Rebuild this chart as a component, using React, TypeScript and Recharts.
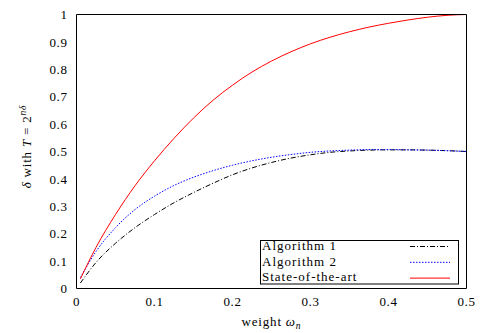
import React from 'react';
import { LineChart, Line, XAxis, YAxis, Legend } from 'recharts';

const weights = [0.005, 0.025, 0.05, 0.075, 0.1, 0.125, 0.15, 0.175, 0.2, 0.225, 0.25, 0.275, 0.3, 0.325, 0.35, 0.375, 0.4, 0.425, 0.45, 0.475, 0.5];
const algorithm1 = [0.02, 0.095, 0.165, 0.222, 0.27, 0.313, 0.35, 0.384, 0.415, 0.44, 0.46, 0.476, 0.488, 0.497, 0.502, 0.505, 0.506, 0.506, 0.505, 0.503, 0.5];
const algorithm2 = [0.04, 0.135, 0.222, 0.288, 0.337, 0.376, 0.406, 0.43, 0.45, 0.466, 0.479, 0.489, 0.497, 0.502, 0.505, 0.507, 0.507, 0.506, 0.505, 0.503, 0.5];
const stateOfTheArt = [0.035, 0.15, 0.27, 0.375, 0.466, 0.548, 0.622, 0.687, 0.742, 0.79, 0.83, 0.864, 0.893, 0.917, 0.937, 0.954, 0.968, 0.98, 0.99, 0.997, 1.0];

const xTicks = [0, 0.1, 0.2, 0.3, 0.4, 0.5];
const yTicks = [0, 0.1, 0.2, 0.3, 0.4, 0.5, 0.6, 0.7, 0.8, 0.9, 1];

const seriesNames = ['Algorithm 1', 'Algorithm 2', 'State-of-the-art'];
const seriesColors = ['#000000', '#0000ff', '#ff0000'];
const seriesDash = ['5 2 1 2', '1.5 1.5', undefined];
const seriesKeys = ['a1', 'a2', 'sota'];

const data = weights.map((w, i) => ({
  w,
  a1: algorithm1[i],
  a2: algorithm2[i],
  sota: stateOfTheArt[i],
}));

const FONT = '"Liberation Serif", "Times New Roman", serif';
const FS = 13;

const fmt = (v: number) => (v === 0 ? '0' : v === 1 ? '1' : String(v));

const LegendBox = () => (
  <svg width={204} height={52} style={{ display: 'block', overflow: 'visible' }}>
    <rect x={2.5} y={4.5} width={198} height={43.5} fill="#fff" stroke="#000" strokeWidth={1} />
    {seriesNames.map((name, i) => (
      <g key={name}>
        <text x={4} y={14 + i * 15.5} fontFamily={FONT} fontSize={FS} letterSpacing={1} fill="#000">
          {name}
        </text>
        <line
          x1={152}
          x2={192}
          y1={10.5 + i * 15.8}
          y2={10.5 + i * 15.8}
          stroke={seriesColors[i]}
          strokeWidth={1}
          strokeDasharray={seriesDash[i]}
        />
      </g>
    ))}
  </svg>
);

const XLabel = (props: any) => {
  const vb = props.viewBox || {};
  const cx = vb.x + vb.width / 2;
  const y = vb.y + vb.height - 7;
  return (
    <text x={cx} y={y} textAnchor="middle" fontFamily={FONT} fontSize={FS} fill="#000" letterSpacing={0.8}>
      weight <tspan fontStyle="italic">ω</tspan>
      <tspan fontStyle="italic" fontSize={9.5} dy={2.5}>n</tspan>
    </text>
  );
};

const YLabel = (props: any) => {
  const vb = props.viewBox || {};
  const cx = 31;
  const cy = vb.y + vb.height / 2 - 5;
  return (
    <text
      x={cx}
      y={cy}
      textAnchor="middle"
      fontFamily={FONT}
      fontSize={FS}
      fill="#000"
      letterSpacing={0.8}
      transform={`rotate(-90 ${cx} ${cy})`}
    >
      <tspan fontStyle="italic">δ</tspan> with <tspan fontStyle="italic">T</tspan> = 2
      <tspan fontStyle="italic" fontSize={9.5} dy={-5}>nδ</tspan>
    </text>
  );
};

const tickStyle = { fontFamily: FONT, fontSize: FS, fill: '#000', letterSpacing: 0.6 };

export default function App() {
  return (
    <div style={{ position: 'absolute', left: 0, top: 0, background: '#fff' }}>
      <LineChart
        width={502}
        height={333}
        data={data}
        margin={{ top: 14.5, right: 35.5, bottom: 0, left: 0 }}
      >
        <XAxis
          xAxisId="b"
          dataKey="w"
          type="number"
          domain={[0, 0.5]}
          ticks={xTicks}
          tickFormatter={fmt}
          orientation="bottom"
          height={44.5}
          tickLine={false}
          tickSize={0}
          tickMargin={8}
          axisLine={{ stroke: '#000' }}
          tick={tickStyle}
          allowDataOverflow
          label={<XLabel />}
        />
        <XAxis
          xAxisId="bm"
          type="number"
          domain={[0, 0.5]}
          ticks={xTicks}
          orientation="bottom"
          mirror
          tick={false}
          tickSize={5}
          tickLine={{ stroke: '#000' }}
          axisLine={false}
          allowDataOverflow
        />
        <XAxis
          xAxisId="t"
          type="number"
          domain={[0, 0.5]}
          ticks={xTicks}
          orientation="top"
          mirror
          tick={false}
          tickSize={5}
          tickLine={{ stroke: '#000' }}
          axisLine={{ stroke: '#000' }}
          allowDataOverflow
        />
        <YAxis
          yAxisId="l"
          type="number"
          domain={[0, 1]}
          ticks={yTicks}
          tickFormatter={fmt}
          orientation="left"
          width={76.5}
          tickLine={false}
          tickSize={0}
          tickMargin={9}
          axisLine={{ stroke: '#000' }}
          tick={tickStyle}
          allowDataOverflow
          label={<YLabel />}
        />
        <YAxis
          yAxisId="lm"
          type="number"
          domain={[0, 1]}
          ticks={yTicks}
          orientation="left"
          mirror
          tick={false}
          tickSize={5}
          tickLine={{ stroke: '#000' }}
          axisLine={false}
          allowDataOverflow
        />
        <YAxis
          yAxisId="r"
          type="number"
          domain={[0, 1]}
          ticks={yTicks}
          orientation="right"
          mirror
          tick={false}
          tickSize={5}
          tickLine={{ stroke: '#000' }}
          axisLine={{ stroke: '#000' }}
          allowDataOverflow
        />
        {seriesKeys.map((k, i) => (
          <Line
            key={k}
            xAxisId="b"
            yAxisId="l"
            dataKey={k}
            name={seriesNames[i]}
            type="monotone"
            stroke={seriesColors[i]}
            strokeWidth={1}
            strokeDasharray={seriesDash[i]}
            dot={false}
            activeDot={false}
            isAnimationActive={false}
          />
        ))}
        <Legend
          layout="vertical"
          align="center"
          verticalAlign="middle"
          content={<LegendBox />}
          wrapperStyle={{ left: 258, top: 236, width: 204, height: 52, margin: 0, padding: 0 }}
        />
      </LineChart>
    </div>
  );
}
